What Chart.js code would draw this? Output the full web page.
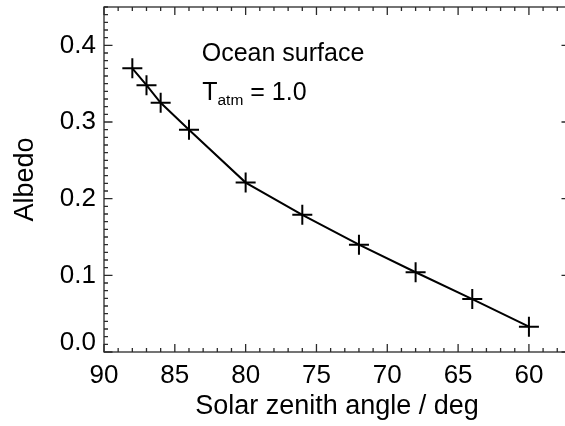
<!DOCTYPE html>
<html><head><meta charset="utf-8">
<script src="https://cdn.jsdelivr.net/npm/chart.js@4.4.0/dist/chart.umd.min.js"></script>
<style>html,body{margin:0;padding:0;overflow:hidden;background:#fff}canvas{display:block}</style>
</head><body><canvas id="c" width="580" height="426" style="width:580px;height:426px"></canvas>
<script>
// ---- data ----
const zenithAngles = [88, 87, 86, 84, 80, 76, 72, 68, 64, 60];
const albedoValues = [0.370, 0.348, 0.325, 0.290, 0.221, 0.179, 0.140, 0.104, 0.069, 0.033];
const xTickValues = [90, 85, 80, 75, 70, 65, 60];
const yTickValues = [0.0, 0.1, 0.2, 0.3, 0.4];
const xTitle = 'Solar zenith angle / deg';
const yTitle = 'Albedo';
const noteLine1 = 'Ocean surface';
const noteSymbol = 'T';
const noteSub = 'atm';
const noteValue = ' = 1.0';

const FONT = '"Liberation Sans", Arial, Helvetica, sans-serif';
const AX = '#2a2a2a';

const axesPlugin = {
  id: 'idlAxes',
  afterDatasetsDraw(chart) {
    const ctx = chart.ctx, a = chart.chartArea;
    const xs = chart.scales.x, ys = chart.scales.y;
    ctx.save();
    ctx.strokeStyle = AX;
    ctx.lineWidth = 1.3;
    ctx.strokeRect(a.left, a.top, a.right - a.left, a.bottom - a.top);
    ctx.beginPath();
    for (let v = Math.ceil(xs.min); v <= xs.max; v++) {
      const px = xs.getPixelForValue(v);
      const len = (v % 5 === 0) ? 8 : 4;
      ctx.moveTo(px, a.bottom); ctx.lineTo(px, a.bottom - len);
      ctx.moveTo(px, a.top); ctx.lineTo(px, a.top + len);
    }
    for (let i = 0; i <= 45; i++) {
      const py = ys.getPixelForValue(i / 100);
      const len = (i % 10 === 0) ? 8.5 : 4;
      ctx.moveTo(a.left, py); ctx.lineTo(a.left + len, py);
      ctx.moveTo(a.right, py); ctx.lineTo(a.right - len, py);
    }
    ctx.stroke();
    // annotation
    ctx.fillStyle = '#000';
    ctx.textBaseline = 'alphabetic';
    ctx.textAlign = 'left';
    ctx.font = '25px ' + FONT;
    const x0 = xs.getPixelForValue(83.1);
    ctx.fillText(noteLine1, x0, ys.getPixelForValue(0.379));
    const yb = ys.getPixelForValue(0.329);
    ctx.fillText(noteSymbol, x0 + 0.5, yb);
    let x1 = x0 + 0.5 + ctx.measureText(noteSymbol).width;
    ctx.font = '15.5px ' + FONT;
    ctx.fillText(noteSub, x1, yb + 5);
    x1 += ctx.measureText(noteSub).width;
    ctx.font = '25px ' + FONT;
    ctx.fillText(noteValue, x1, yb);
    ctx.restore();
  }
};

const zeroPad = s => { s.paddingTop = 0; s.paddingBottom = 0; s.paddingLeft = 0; s.paddingRight = 0; };

new Chart(document.getElementById('c'), {
  type: 'scatter',
  data: {
    datasets: [{
      data: zenithAngles.map((x, i) => ({ x: x, y: albedoValues[i] })),
      showLine: true,
      tension: 0,
      borderColor: '#000',
      borderWidth: 2,
      pointStyle: 'cross',
      pointRadius: 10,
      pointBorderWidth: 2,
      pointBorderColor: '#000',
      pointBackgroundColor: '#000',
      clip: false
    }]
  },
  options: {
    responsive: false,
    animation: false,
    layout: { autoPadding: false, padding: { top: 7, right: 10, left: 0, bottom: 0 } },
    plugins: { legend: { display: false }, tooltip: { enabled: false } },
    scales: {
      x: {
        type: 'linear', reverse: true, min: 57.1, max: 90,
        afterBuildTicks: s => { s.ticks = xTickValues.map(v => ({ value: v })); },
        afterFit: s => { s.height = 74; zeroPad(s); },
        grid: { display: false, drawTicks: false },
        border: { display: false },
        ticks: {
          autoSkip: false, maxRotation: 0, color: '#000', padding: 8,
          font: { family: FONT, size: 26 },
          callback: v => String(v)
        },
        title: { display: true, text: xTitle, color: '#000',
          font: { family: FONT, size: 27 }, padding: { top: 0, bottom: 3 } }
      },
      y: {
        type: 'linear', min: 0, max: 0.45,
        afterBuildTicks: s => { s.ticks = yTickValues.map(v => ({ value: v })); },
        afterFit: s => { s.width = 104; zeroPad(s); },
        grid: { display: false, drawTicks: false },
        border: { display: false },
        ticks: {
          autoSkip: false, color: '#000', padding: 8,
          font: { family: FONT, size: 26, lineHeight: 0.7 },
          callback: v => (Math.abs(v) < 1e-9 ? ['0.0', ''] : v.toFixed(1))
        },
        title: { display: true, text: yTitle, color: '#000',
          font: { family: FONT, size: 27 }, padding: { top: 9, bottom: 0 } }
      }
    }
  },
  plugins: [axesPlugin]
});
</script>
</body></html>
